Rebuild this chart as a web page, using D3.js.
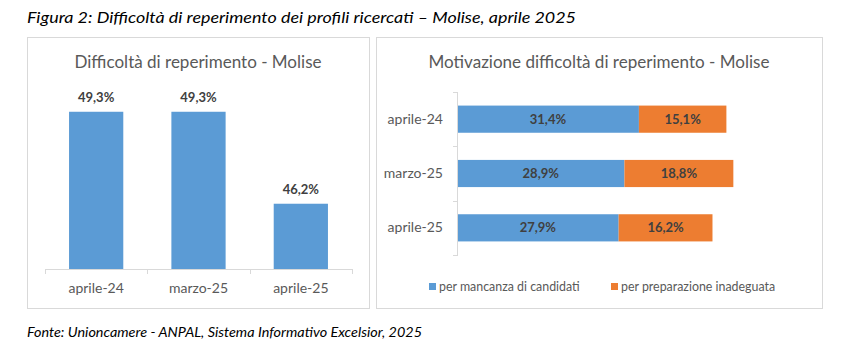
<!DOCTYPE html>
<html>
<head>
<meta charset="utf-8">
<script src="https://cdn.jsdelivr.net/npm/d3@7"></script>
<style>
  body { margin: 0; background: #ffffff; }
  svg { display: block; }
</style>
</head>
<body>
<div id="chart"></div>
<script>
// data
var categories = ["aprile-24", "marzo-25", "aprile-25"];
var difficoltaValues = [49.3, 49.3, 46.2];
var mancanzaValues = [31.4, 28.9, 27.9];
var preparazioneValues = [15.1, 18.8, 16.2];
var seriesNames = ["per mancanza di candidati", "per preparazione inadeguata"];

var blue = "#5B9BD5", orange = "#ED7D31", grey = "#595959", dark = "#404040", lineC = "#D9D9D9";
var font = "Lato, 'Open Sans', sans-serif";
var fmt = function (v) { return d3.format(".1f")(v).replace(".", ",") + "%"; };

var svg = d3.select("#chart").append("svg")
	.attr("width", 861)
	.attr("height", 351)
	.style("font-family", font);

// figure title + source
svg.append("text")
	.attr("x", 27).attr("y", 23)
	.attr("font-size", "15px").attr("font-style", "italic").attr("fill", "#000")
	.attr("textLength", 549).attr("lengthAdjust", "spacingAndGlyphs")
	.text("Figura 2: Difficoltà di reperimento dei profili ricercati – Molise, aprile 2025");

svg.append("text")
	.attr("x", 27).attr("y", 337)
	.attr("font-size", "13px").attr("font-style", "italic").attr("fill", "#000")
	.attr("textLength", 395).attr("lengthAdjust", "spacingAndGlyphs")
	.text("Fonte: Unioncamere - ANPAL, Sistema Informativo Excelsior, 2025");

// panel borders
svg.append("rect").attr("x", 27.5).attr("y", 37.5).attr("width", 342).attr("height", 271)
	.attr("fill", "none").attr("stroke", lineC);
svg.append("rect").attr("x", 376.5).attr("y", 37.5).attr("width", 446).attr("height", 271)
	.attr("fill", "none").attr("stroke", lineC);

// ---- left chart: column chart
svg.append("text")
	.attr("x", 198).attr("y", 68).attr("text-anchor", "middle")
	.attr("font-size", "17px").attr("fill", grey)
	.attr("textLength", 247).attr("lengthAdjust", "spacingAndGlyphs")
	.text("Difficoltà di reperimento - Molise");

var x = d3.scaleBand()
	.domain(categories)
	.range([45, 352])
	.paddingInner(0.47)
	.paddingOuter(0.235);

var y = d3.scaleLinear()
	.domain([44, 50])
	.range([269, 91]);

var gL = svg.append("g");
gL.selectAll(".bar")
	.data(categories)
	.enter()
	.append("rect")
		.attr("class", "bar")
		.attr("x", d => x(d))
		.attr("y", (d, i) => y(difficoltaValues[i]))
		.attr("width", x.bandwidth())
		.attr("height", (d, i) => y.range()[0] - y(difficoltaValues[i]))
		.attr("fill", blue);

gL.selectAll(".vlab")
	.data(categories)
	.enter()
	.append("text")
		.attr("class", "vlab")
		.attr("x", d => x(d) + x.bandwidth() / 2)
		.attr("y", (d, i) => y(difficoltaValues[i]) - 10)
		.attr("text-anchor", "middle")
		.attr("font-size", "13px").attr("font-weight", "bold").attr("fill", dark)
		.text((d, i) => fmt(difficoltaValues[i]));

// baseline with tick marks between categories
var stepL = x.step();
gL.append("line")
	.attr("x1", 45).attr("x2", 352).attr("y1", 269.5).attr("y2", 269.5)
	.attr("stroke", lineC);
for (var i = 0; i <= categories.length; i++) {
	var tx = Math.round(45 + i * stepL) + 0.5;
	gL.append("line").attr("x1", tx).attr("x2", tx).attr("y1", 269).attr("y2", 274)
		.attr("stroke", lineC);
}
var xAxis = gL.append("g")
	.attr("transform", "translate(0,269)")
	.call(d3.axisBottom(x).tickSize(0).tickPadding(14));
xAxis.select(".domain").remove();
xAxis.selectAll("text")
	.attr("font-family", font).attr("font-size", "14px").attr("fill", grey);

// ---- right chart: stacked horizontal bars
svg.append("text")
	.attr("x", 599).attr("y", 68).attr("text-anchor", "middle")
	.attr("font-size", "17px").attr("fill", grey)
	.attr("textLength", 341).attr("lengthAdjust", "spacingAndGlyphs")
	.text("Motivazione difficoltà di reperimento - Molise");

var rows = categories.map(function (c, i) {
	return {cat: c, mancanza: mancanzaValues[i], preparazione: preparazioneValues[i]};
});
var stacked = d3.stack().keys(["mancanza", "preparazione"])(rows);
var colors = [blue, orange];

var xr = d3.scaleLinear().domain([0, 60]).range([457, 804.6]);
var yr = d3.scaleBand()
	.domain(categories)
	.range([92, 255])
	.paddingInner(0.5)
	.paddingOuter(0.25);

var gR = svg.append("g");
stacked.forEach(function (s, k) {
	gR.selectAll(".seg" + k)
		.data(s)
		.enter()
		.append("rect")
			.attr("class", "seg" + k)
			.attr("x", d => xr(d[0]))
			.attr("y", d => yr(d.data.cat))
			.attr("width", d => xr(d[1]) - xr(d[0]))
			.attr("height", yr.bandwidth())
			.attr("fill", colors[k]);
	gR.selectAll(".slab" + k)
		.data(s)
		.enter()
		.append("text")
			.attr("class", "slab" + k)
			.attr("x", d => (xr(d[0]) + xr(d[1])) / 2)
			.attr("y", d => yr(d.data.cat) + yr.bandwidth() / 2)
			.attr("dy", "0.35em")
			.attr("text-anchor", "middle")
			.attr("font-size", "13px").attr("font-weight", "bold").attr("fill", dark)
			.text(d => fmt(d[1] - d[0]));
});

// vertical axis with tick marks between categories
var stepR = yr.step();
gR.append("line")
	.attr("x1", 457.5).attr("x2", 457.5).attr("y1", 92).attr("y2", 255)
	.attr("stroke", lineC);
for (var j = 0; j <= categories.length; j++) {
	var ty = Math.round(92 + j * stepR) + 0.5;
	gR.append("line").attr("x1", 453).attr("x2", 458).attr("y1", ty).attr("y2", ty)
		.attr("stroke", lineC);
}
var yAxis = gR.append("g")
	.attr("transform", "translate(457,0)")
	.call(d3.axisLeft(yr).tickSize(0).tickPadding(14));
yAxis.select(".domain").remove();
yAxis.selectAll("text")
	.attr("font-family", font).attr("font-size", "14px").attr("fill", grey);

// legend
var legendX = [429, 611];
seriesNames.forEach(function (name, k) {
	svg.append("rect")
		.attr("x", legendX[k]).attr("y", 283)
		.attr("width", 7).attr("height", 7)
		.attr("fill", colors[k]);
	svg.append("text")
		.attr("x", legendX[k] + 10).attr("y", 287)
		.attr("dy", "0.35em")
		.attr("font-size", "12.4px").attr("fill", grey)
		.text(name);
});
</script>
</body>
</html>
